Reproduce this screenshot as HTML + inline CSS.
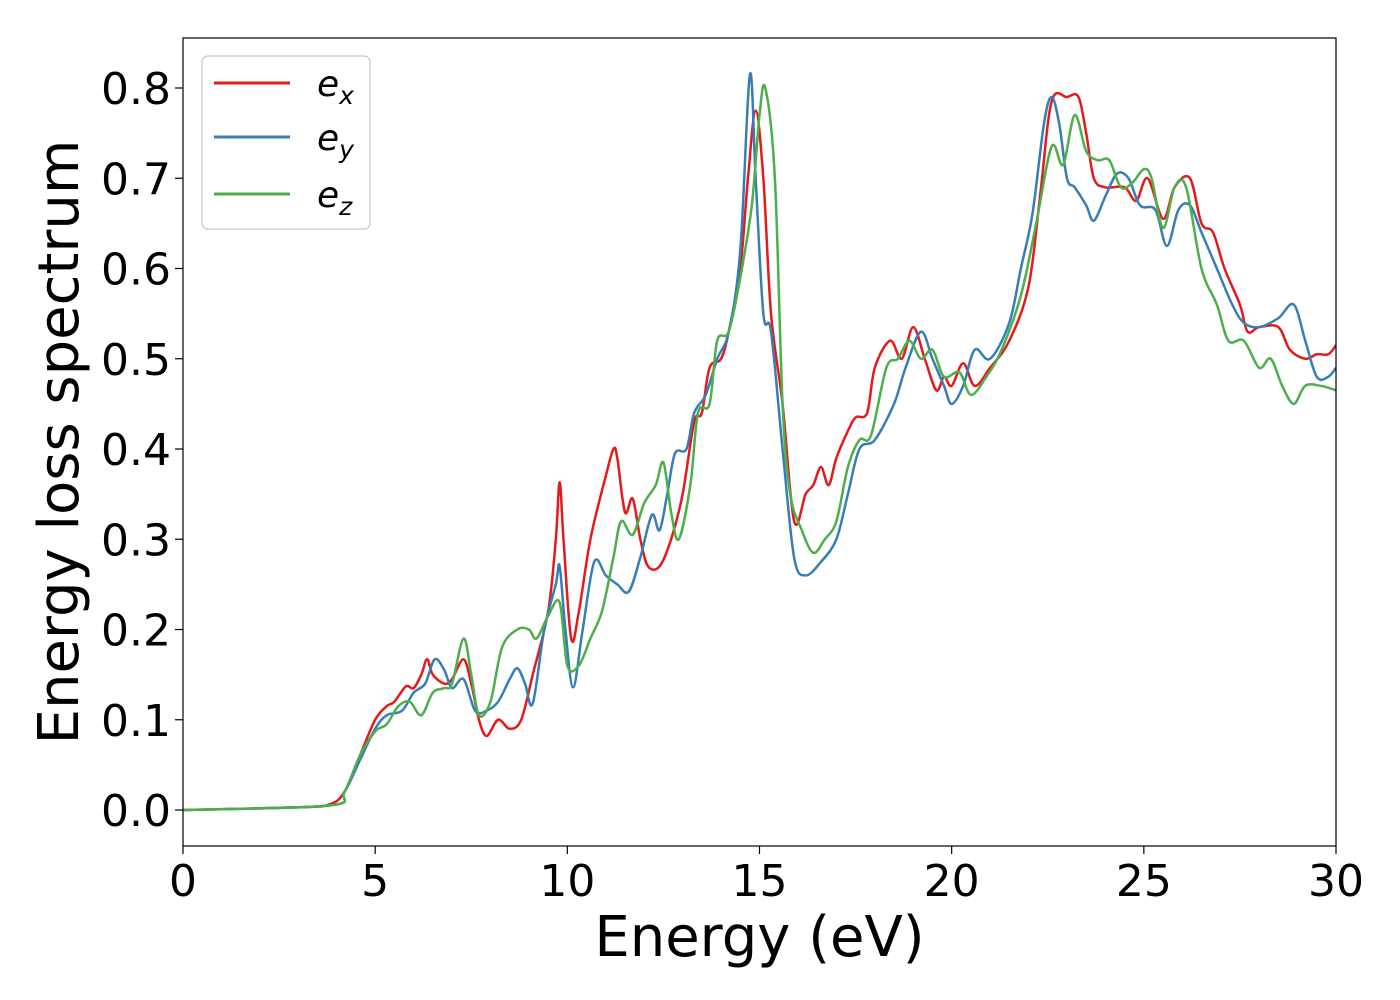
<!DOCTYPE html>
<html><head><meta charset="utf-8"><style>
html,body{margin:0;padding:0;background:#fff;}
svg{display:block;font-family:"DejaVu Sans","Liberation Sans",sans-serif;}
</style></head><body>
<svg id="chart" width="1400" height="1000" viewBox="0 0 1400 1000" xmlns="http://www.w3.org/2000/svg">
<g id="plot"></g>
</svg>
<script>
const xTicks=[0,5,10,15,20,25,30];
const yTicks=[0.0,0.1,0.2,0.3,0.4,0.5,0.6,0.7,0.8];
const yTickLabels=["0.0","0.1","0.2","0.3","0.4","0.5","0.6","0.7","0.8"];
const exE=[0,3,3.8,4.2,4.6,5,5.3,5.5,5.8,6.0,6.2,6.35,6.5,6.8,7.0,7.3,7.5,7.7,7.9,8.2,8.5,8.8,9.1,9.5,9.7,9.8,9.9,10.1,10.3,10.6,11.0,11.2,11.3,11.5,11.7,11.9,12.1,12.4,12.7,13.0,13.3,13.5,13.7,14.0,14.2,14.5,14.7,14.9,15.1,15.3,15.6,15.9,16.2,16.4,16.6,16.8,17.0,17.3,17.5,17.8,18.0,18.4,18.7,19.0,19.3,19.6,19.8,20.0,20.3,20.6,21.0,21.5,22.0,22.3,22.6,23.0,23.3,23.5,23.7,24.0,24.5,24.8,25.1,25.5,25.8,26.2,26.5,26.8,27.1,27.5,27.7,28.0,28.5,28.8,29.2,29.5,29.8,30];
const exV=[0,0.003,0.006,0.02,0.06,0.1,0.115,0.12,0.137,0.135,0.15,0.167,0.15,0.14,0.145,0.167,0.14,0.1,0.082,0.1,0.09,0.1,0.15,0.22,0.3,0.363,0.3,0.19,0.22,0.3,0.37,0.4,0.39,0.33,0.345,0.3,0.27,0.27,0.3,0.35,0.43,0.44,0.49,0.5,0.53,0.6,0.7,0.775,0.7,0.55,0.45,0.32,0.35,0.36,0.38,0.36,0.39,0.42,0.435,0.44,0.49,0.52,0.5,0.535,0.5,0.465,0.48,0.47,0.495,0.47,0.49,0.52,0.58,0.68,0.785,0.79,0.79,0.75,0.7,0.69,0.69,0.675,0.7,0.655,0.69,0.7,0.65,0.64,0.6,0.56,0.53,0.535,0.535,0.51,0.5,0.505,0.505,0.515];
const eyE=[0,3.8,4.2,4.6,5,5.3,5.7,6.0,6.3,6.55,6.8,7.0,7.3,7.6,7.9,8.2,8.5,8.7,8.9,9.1,9.4,9.7,9.8,9.95,10.15,10.4,10.7,11.0,11.3,11.6,11.9,12.2,12.4,12.6,12.8,13.1,13.3,13.6,13.9,14.2,14.5,14.75,14.9,15.1,15.3,15.6,15.9,16.2,16.6,17.0,17.3,17.6,18.0,18.5,18.8,19.2,19.5,19.8,20.0,20.3,20.6,21.0,21.5,21.8,22.1,22.4,22.6,22.8,23.0,23.2,23.5,23.7,24.0,24.3,24.6,24.9,25.3,25.6,25.9,26.2,26.5,26.9,27.3,27.6,28.0,28.5,28.9,29.2,29.5,29.8,30];
const eyV=[0,0.005,0.02,0.055,0.09,0.105,0.11,0.13,0.14,0.167,0.155,0.135,0.145,0.11,0.11,0.12,0.145,0.157,0.14,0.118,0.2,0.25,0.27,0.2,0.136,0.2,0.275,0.26,0.25,0.242,0.28,0.327,0.31,0.35,0.395,0.4,0.44,0.46,0.5,0.53,0.62,0.815,0.7,0.55,0.53,0.4,0.28,0.26,0.275,0.3,0.35,0.4,0.41,0.45,0.49,0.53,0.5,0.47,0.45,0.47,0.51,0.5,0.54,0.6,0.66,0.76,0.79,0.76,0.7,0.69,0.67,0.653,0.68,0.705,0.7,0.67,0.665,0.625,0.665,0.67,0.64,0.6,0.56,0.54,0.535,0.545,0.56,0.52,0.48,0.48,0.49];
const ezE=[0,3.8,4.2,4.6,5,5.3,5.6,5.9,6.2,6.5,6.8,7.0,7.3,7.5,7.7,8.0,8.3,8.7,9.0,9.2,9.5,9.8,10.0,10.3,10.6,10.9,11.2,11.4,11.7,12.0,12.3,12.5,12.7,12.9,13.2,13.4,13.7,13.9,14.2,14.5,14.8,15.0,15.15,15.4,15.6,15.8,16.1,16.4,16.7,17.0,17.3,17.6,17.9,18.3,18.6,18.9,19.2,19.5,19.8,20.2,20.5,20.9,21.3,21.8,22.2,22.6,22.9,23.2,23.5,23.8,24.1,24.4,24.7,25.0,25.2,25.5,25.8,26.1,26.5,26.9,27.2,27.6,28.0,28.3,28.6,28.9,29.2,29.6,30];
const ezV=[0,0.005,0.02,0.06,0.087,0.095,0.115,0.12,0.105,0.13,0.135,0.14,0.19,0.15,0.105,0.12,0.18,0.2,0.2,0.19,0.215,0.23,0.16,0.16,0.19,0.22,0.28,0.32,0.305,0.34,0.36,0.385,0.33,0.3,0.36,0.44,0.45,0.52,0.53,0.59,0.67,0.77,0.8,0.7,0.45,0.35,0.31,0.285,0.3,0.32,0.38,0.41,0.415,0.49,0.5,0.52,0.5,0.51,0.48,0.485,0.46,0.48,0.51,0.57,0.65,0.735,0.715,0.77,0.73,0.72,0.72,0.69,0.695,0.71,0.7,0.645,0.69,0.69,0.6,0.56,0.52,0.52,0.49,0.5,0.47,0.45,0.47,0.47,0.465];

const L=183,R=1336,T=38,B=846;
const xS=v=>L+(v-0)/(30-0)*(R-L);
const yS=v=>810+(v-0)*(88-810)/0.8;
const NS="http://www.w3.org/2000/svg";
const svg=document.getElementById('chart');
function mk(tag,attrs,parent){const e=document.createElementNS(NS,tag);for(const k in attrs)e.setAttribute(k,attrs[k]);(parent||svg).appendChild(e);return e;}
function smooth(xs,ys){const p=xs.map((x,i)=>[xS(x),yS(ys[i])]);let d=`M${p[0][0]},${p[0][1]}`;
for(let i=0;i<p.length-1;i++){const p0=p[Math.max(0,i-1)],p1=p[i],p2=p[i+1],p3=p[Math.min(p.length-1,i+2)];
const c1=[p1[0]+(p2[0]-p0[0])/6,p1[1]+(p2[1]-p0[1])/6],c2=[p2[0]-(p3[0]-p1[0])/6,p2[1]-(p3[1]-p1[1])/6];
d+=`C${c1[0]},${c1[1]} ${c2[0]},${c2[1]} ${p2[0]},${p2[1]}`;}return d;}
const defs=mk('defs',{});const cp=mk('clipPath',{id:'clip'},defs);mk('rect',{x:L,y:T,width:R-L,height:B-T},cp);
const series=[[exE,exV,'#e41a1c','series-ex'],[eyE,eyV,'#377eb8','series-ey'],[ezE,ezV,'#4daf4a','series-ez']];
const g=mk('g',{'clip-path':'url(#clip)'});


series.forEach(s=>{const p=mk('path',{d:smooth(s[0],s[1]),fill:'none',stroke:s[2],'stroke-width':2.5,'stroke-linejoin':'round'},g);

});
const frame=mk('rect',{x:L,y:T,width:R-L,height:B-T,fill:'none',stroke:'#000','stroke-width':1.2});


xTicks.forEach(v=>{mk('line',{x1:xS(v),x2:xS(v),y1:B,y2:B+8,stroke:'#000','stroke-width':1.2});
const t=mk('text',{x:xS(v),y:B+50,'font-size':44,'text-anchor':'middle'});t.textContent=v;

});
yTicks.forEach((v,i)=>{mk('line',{x1:L-8,x2:L,y1:yS(v),y2:yS(v),stroke:'#000','stroke-width':1.2});
const t=mk('text',{x:L-12,y:yS(v)+16,'font-size':44,'text-anchor':'end'});t.textContent=yTickLabels[i];

});
const xl=mk('text',{x:(L+R)/2,y:956,'font-size':56,'text-anchor':'middle'});xl.textContent='Energy (eV)';


const yl=mk('text',{x:0,y:0,'font-size':56,'text-anchor':'middle',transform:`translate(78,${(T+B)/2}) rotate(-90)`});yl.textContent='Energy loss spectrum';


const lg=mk('g',{});


mk('rect',{x:202,y:56,width:168,height:173,rx:6,fill:'#fff',stroke:'#d0d0d0','stroke-width':1.5,'fill-opacity':0.8},lg);
[['x','#e41a1c',83],['y','#377eb8',137],['z','#4daf4a',194]].forEach(e=>{
mk('line',{x1:214,x2:290,y1:e[2],y2:e[2],stroke:e[1],'stroke-width':3},lg);
const t=mk('text',{x:317,y:e[2]+13,'font-size':36,'font-style':'italic'},lg);


t.textContent='e';const s=mk('tspan',{'font-size':25,dy:8},t);s.textContent=e[0];});
</script>
</body></html>
